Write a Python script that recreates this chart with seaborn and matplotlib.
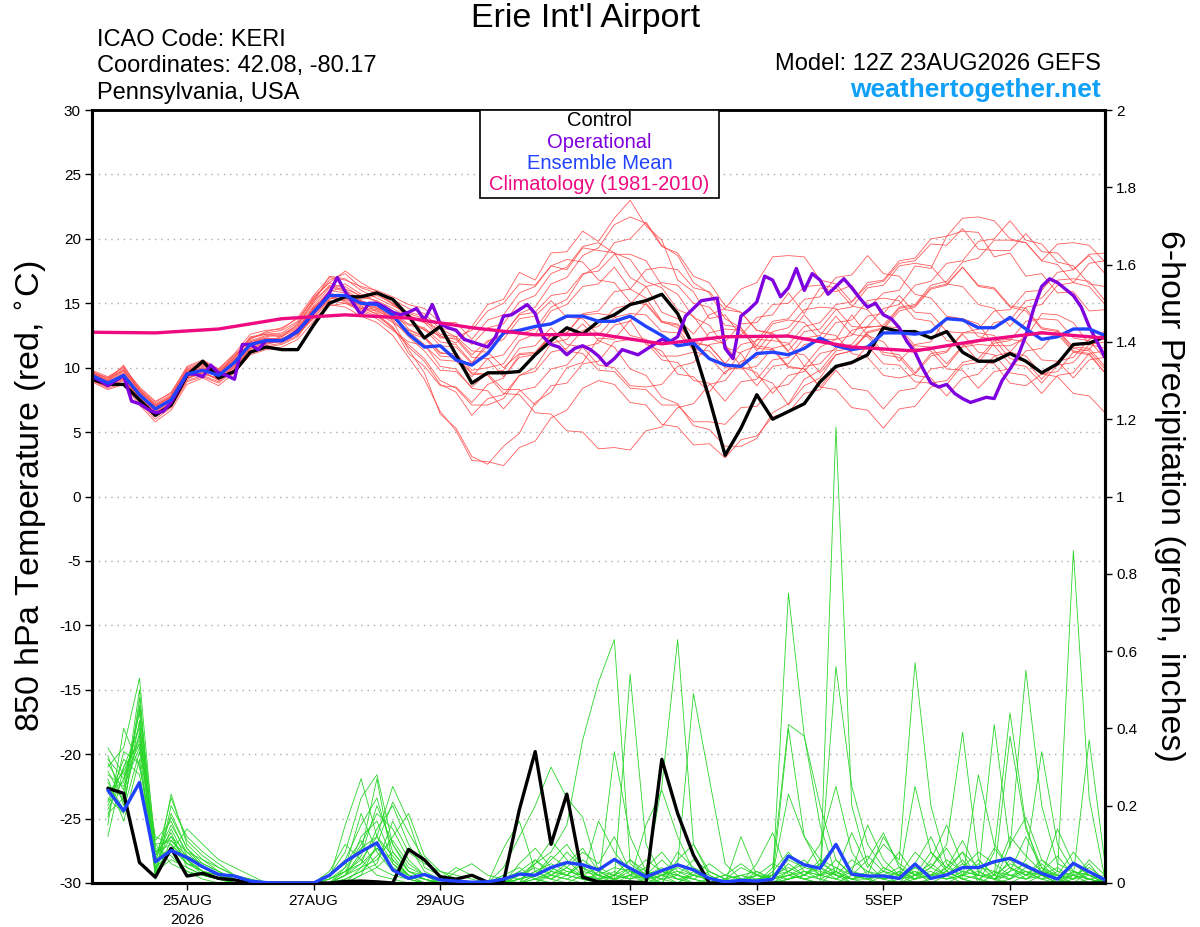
import numpy as np
import pandas as pd
import matplotlib
matplotlib.use('Agg')
import matplotlib.pyplot as plt
import seaborn as sns
from matplotlib.patches import Rectangle

# ---------------- DATA ----------------
# forecast hour offsets from 12Z 23AUG2026 (6-hourly, 0..384)
tick_hours = [36, 84, 132, 204, 252, 300, 348]
tick_labels = ['25AUG\n2026', '27AUG', '29AUG', '1SEP', '3SEP', '5SEP', '7SEP']

control_temp = [9.1, 8.7, 8.7, 7.5, 6.3, 7.1, 9.4, 10.5, 9.2, 9.7, 11.2, 11.6, 11.4, 11.4, 13.3, 15.0,
                15.5, 15.5, 15.8, 15.3, 14.0, 12.3, 13.2, 11.0, 8.8, 9.6, 9.6, 9.7, 11.0, 12.1, 13.1, 12.6,
                13.6, 14.1, 14.9, 15.2, 15.7, 14.2, 11.6, 7.6, 3.2, 5.3, 7.9, 6.0, 6.6, 7.2, 8.9, 10.1,
                10.4, 11.0, 13.1, 12.8, 12.8, 12.3, 12.8, 11.2, 10.5, 10.5, 11.1, 10.5, 9.6, 10.3, 11.8,
                11.9, 12.4]

mean_temp = [9.4, 8.8, 9.4, 7.9, 6.8, 7.5, 9.5, 9.8, 9.4, 10.4, 11.8, 12.1, 12.1, 12.8, 14.3, 15.6,
             15.6, 15.0, 14.9, 14.1, 12.6, 11.6, 11.7, 10.6, 10.2, 11.1, 12.7, 12.9, 13.2, 13.4, 14.0,
             14.0, 13.6, 13.6, 14.0, 13.2, 12.5, 11.7, 11.9, 10.7, 10.2, 10.1, 11.1, 11.2, 11.0, 11.5,
             12.3, 11.7, 11.4, 11.6, 12.7, 12.7, 12.6, 12.8, 13.8, 13.7, 13.1, 13.1, 13.9, 13.0, 12.2,
             12.4, 13.0, 13.0, 12.5]

# operational run, 3-hourly
oper_temp = [9.3, 9.0, 8.6, 9.0, 9.4, 7.4, 7.2, 6.8, 6.5, 6.6, 7.3, 8.4, 9.5, 9.5, 9.3, 10.2,
             9.6, 9.4, 9.1, 11.8, 11.8, 11.4, 12.1, 12.1, 12.1, 12.4, 12.9, 13.5, 14.3, 15.0, 15.8, 17.0,
             15.9, 15.0, 14.1, 15.0, 15.0, 14.7, 14.3, 14.1, 14.3, 14.6, 13.7, 14.9, 13.4, 13.1, 12.9, 12.2,
             12.0, 11.8, 11.6, 12.4, 14.0, 14.1, 14.5, 14.9, 14.2, 12.4, 11.8, 11.6, 11.0, 11.5, 11.7, 11.4,
             10.9, 10.2, 10.7, 11.4, 11.2, 11.0, 11.4, 11.8, 12.2, 12.0, 12.4, 14.0, 14.6, 15.2, 15.3, 15.4,
             11.5, 10.7, 14.0, 14.5, 15.1, 17.1, 16.8, 15.5, 16.2, 17.7, 16.0, 17.3, 16.8, 15.7, 16.3, 16.9,
             16.2, 15.4, 14.7, 15.0, 14.1, 13.8, 13.1, 12.0, 11.2, 9.9, 8.8, 8.5, 8.7, 8.0, 7.6, 7.3,
             7.5, 7.7, 7.6, 9.0, 9.9, 10.9, 12.5, 14.6, 16.3, 16.9, 16.6, 16.1, 15.6, 14.7, 13.2, 12.0,
             10.8]

# climatology (1981-2010), daily at 12Z
clim_hours = [0, 24, 48, 72, 96, 120, 144, 168, 192, 216, 240, 264, 288, 312, 336, 360, 384]
clim_temp = [12.75, 12.7, 13.0, 13.8, 14.1, 13.85, 13.1, 12.55, 12.6, 11.85, 12.4, 12.45, 11.6, 11.3,
             12.1, 12.7, 12.3]

member_temps = [
    [9.6, 9.0, 10.2, 8.2, 7.0, 7.8, 9.8, 10.3, 9.6, 10.8, 12.4, 12.6, 12.5, 13.2, 15.0, 16.4, 16.0, 15.3, 15.6, 15.0, 13.8, 12.9, 12.5, 11.9, 13.2, 14.9, 15.3, 17.4, 16.8, 18.9, 19.0, 20.6, 19.8, 21.6, 23.0, 21.0, 19.9, 16.8, 15.9, 13.8, 14.1, 12.5, 13.9, 14.1, 15.8, 14.2, 16.2, 15.9, 16.4, 14.6, 15.8, 16.0, 17.9, 17.7, 20.2, 20.6, 20.5, 18.6, 18.9, 17.1, 17.3, 15.8, 15.9, 14.4, 14.5],
    [9.2, 8.6, 9.0, 7.6, 6.5, 7.2, 9.3, 9.6, 9.1, 10.1, 11.5, 11.9, 12.0, 12.9, 14.6, 16.0, 15.8, 15.2, 14.8, 13.6, 11.4, 9.6, 6.4, 5.3, 3.1, 2.5, 3.9, 4.9, 7.3, 8.1, 10.0, 10.4, 12.3, 12.2, 13.7, 11.8, 11.3, 9.5, 9.3, 8.1, 9.7, 10.2, 12.2, 12.1, 11.9, 10.1, 11.6, 12.2, 14.1, 12.5, 12.0, 10.5, 11.8, 12.0, 13.9, 13.8, 13.4, 11.7, 11.7, 12.3, 14.2, 14.1, 13.5, 11.8, 11.5],
    [9.8, 9.3, 10.0, 8.5, 7.4, 8.0, 10.1, 10.6, 9.9, 11.0, 12.2, 12.8, 13.1, 13.8, 15.3, 16.8, 17.3, 16.2, 15.8, 14.9, 14.1, 13.5, 13.0, 12.4, 12.9, 14.4, 15.0, 16.5, 16.4, 17.9, 17.6, 19.3, 19.1, 18.9, 17.0, 16.3, 14.3, 13.8, 12.6, 14.1, 14.6, 16.1, 16.6, 18.6, 18.7, 18.6, 16.8, 16.5, 15.1, 16.4, 16.7, 18.1, 18.3, 19.6, 19.5, 20.8, 19.2, 19.1, 19.1, 20.4, 19.0, 18.9, 17.6, 18.8, 18.9],
    [9.0, 8.4, 8.8, 7.3, 6.0, 6.9, 8.9, 9.3, 8.8, 9.8, 11.2, 11.6, 11.8, 12.4, 14.1, 15.4, 15.2, 14.6, 14.2, 13.0, 11.8, 10.7, 9.0, 8.4, 7.1, 7.1, 7.6, 9.4, 10.0, 11.9, 12.2, 13.4, 12.1, 11.6, 9.9, 9.4, 7.7, 7.2, 5.5, 5.2, 3.9, 3.9, 4.5, 6.5, 7.2, 9.1, 9.8, 11.3, 11.5, 12.6, 11.2, 11.0, 9.6, 11.1, 11.3, 12.7, 12.7, 12.5, 11.2, 10.9, 9.5, 9.3, 8.0, 7.8, 6.5],
    [9.5, 8.9, 9.6, 8.0, 6.9, 7.6, 9.6, 10.0, 9.5, 10.6, 12.0, 12.3, 12.2, 13.0, 14.8, 16.2, 16.5, 15.7, 15.1, 14.4, 13.0, 12.4, 11.1, 11.1, 9.8, 10.0, 10.3, 12.1, 12.6, 14.4, 14.9, 16.3, 16.5, 17.8, 16.1, 15.4, 13.6, 13.1, 11.3, 10.8, 9.5, 11.2, 11.7, 13.4, 13.7, 13.5, 12.2, 12.2, 12.5, 14.0, 14.2, 15.6, 14.3, 14.2, 12.8, 12.7, 13.0, 14.4, 14.5, 15.9, 16.0, 17.4, 17.6, 18.7, 17.3],
    [9.3, 8.7, 9.2, 7.7, 6.6, 7.3, 9.4, 9.9, 9.3, 10.3, 11.6, 12.0, 12.3, 12.6, 13.9, 15.1, 15.5, 14.8, 14.1, 13.2, 11.1, 10.1, 8.6, 8.5, 7.3, 8.7, 9.2, 11.0, 11.1, 12.5, 12.7, 14.1, 14.2, 14.0, 12.5, 12.2, 10.9, 10.9, 11.2, 12.7, 13.0, 12.9, 11.5, 11.4, 10.0, 9.9, 8.5, 10.0, 10.3, 11.7, 10.3, 10.2, 8.9, 8.8, 9.0, 10.4, 10.7, 12.1, 12.2, 12.0, 10.6, 10.5, 9.2, 10.6, 10.8],
    [9.1, 8.5, 9.3, 7.5, 6.4, 7.1, 9.1, 9.7, 9.0, 10.0, 11.4, 11.8, 12.1, 12.7, 14.4, 15.9, 16.3, 15.5, 15.2, 14.6, 13.9, 13.5, 12.3, 12.3, 11.0, 12.1, 12.6, 14.1, 14.3, 15.6, 15.8, 17.3, 17.5, 18.8, 18.8, 18.3, 16.4, 15.7, 13.9, 13.3, 11.6, 11.1, 9.3, 8.8, 7.1, 8.6, 9.2, 11.0, 11.3, 12.8, 13.1, 14.6, 14.8, 16.2, 16.5, 17.8, 16.3, 16.1, 14.7, 14.4, 13.0, 12.8, 11.3, 11.1, 9.6],
    [9.7, 9.1, 9.9, 8.3, 7.2, 7.9, 9.9, 10.4, 9.8, 10.9, 12.1, 12.5, 12.4, 13.4, 15.1, 17.1, 16.9, 16.0, 15.4, 14.8, 14.3, 14.0, 12.6, 12.4, 11.3, 11.2, 10.0, 11.1, 11.2, 12.6, 11.3, 11.1, 9.8, 9.7, 8.4, 8.3, 7.1, 7.1, 5.8, 5.8, 5.6, 6.9, 7.0, 8.4, 8.7, 10.1, 10.3, 11.6, 11.8, 13.2, 13.2, 13.1, 11.7, 11.6, 10.3, 11.7, 12.0, 13.5, 13.7, 15.2, 15.4, 16.8, 16.9, 16.7, 15.2],
    [9.4, 8.8, 9.5, 7.9, 6.7, 7.5, 9.5, 9.8, 9.4, 10.5, 11.9, 12.2, 12.0, 12.9, 14.2, 15.2, 15.0, 14.4, 13.8, 12.9, 12.0, 11.7, 10.6, 10.5, 9.3, 10.7, 11.0, 12.6, 13.0, 14.7, 15.3, 17.2, 17.9, 19.7, 20.0, 21.3, 19.5, 18.7, 16.6, 15.8, 13.8, 13.1, 11.3, 12.8, 13.1, 14.5, 14.7, 14.6, 13.2, 13.1, 13.3, 14.7, 14.9, 16.4, 16.7, 18.2, 18.5, 19.9, 19.9, 19.7, 18.3, 19.6, 19.7, 19.5, 18.2],
    [9.2, 8.7, 9.1, 7.6, 6.3, 7.0, 9.2, 9.5, 9.2, 10.2, 11.7, 12.1, 12.4, 13.1, 14.7, 15.8, 15.4, 14.7, 14.5, 13.7, 12.4, 11.3, 9.8, 9.7, 8.5, 9.6, 9.8, 11.5, 11.7, 13.1, 11.8, 11.6, 10.2, 10.0, 8.6, 8.5, 8.7, 10.1, 10.4, 11.8, 12.0, 13.4, 13.5, 14.9, 15.0, 16.3, 16.4, 16.2, 14.8, 14.5, 13.1, 12.9, 11.5, 11.3, 9.9, 9.8, 8.4, 9.7, 9.9, 11.3, 11.5, 12.9, 11.6, 11.5, 10.1],
    [9.6, 9.0, 9.7, 8.1, 7.1, 7.7, 9.7, 10.1, 9.7, 10.7, 12.3, 12.7, 12.9, 13.6, 15.5, 16.6, 16.1, 15.6, 15.9, 15.3, 14.6, 14.2, 13.0, 13.0, 11.8, 13.1, 13.4, 15.1, 15.6, 17.3, 17.8, 19.4, 19.7, 18.9, 18.4, 16.7, 16.2, 14.5, 14.0, 12.3, 11.8, 10.1, 9.6, 8.0, 9.4, 9.7, 11.1, 11.4, 12.9, 13.2, 14.6, 14.9, 16.4, 16.7, 18.1, 18.3, 19.8, 20.0, 21.4, 19.9, 19.6, 18.2, 17.9, 16.5, 16.3],
    [8.9, 8.3, 8.7, 7.1, 5.8, 6.7, 8.7, 9.2, 8.6, 9.6, 11.0, 11.4, 11.6, 12.2, 13.6, 14.9, 14.7, 14.0, 13.5, 12.5, 10.8, 9.1, 6.6, 5.1, 2.8, 2.7, 2.4, 3.8, 4.3, 6.1, 6.7, 8.4, 9.0, 8.7, 7.3, 7.1, 5.6, 5.4, 4.0, 4.1, 3.0, 4.4, 4.7, 6.2, 6.5, 8.0, 8.3, 9.8, 8.4, 8.2, 6.8, 8.2, 8.4, 9.9, 10.1, 11.6, 11.8, 11.7, 10.3, 10.1, 8.8, 10.2, 10.4, 11.8, 12.0],
    [9.5, 9.0, 9.8, 8.2, 7.0, 7.7, 9.7, 10.2, 9.6, 10.6, 12.0, 12.4, 12.6, 13.3, 15.2, 16.3, 15.9, 15.1, 14.7, 14.2, 13.4, 13.1, 12.0, 11.8, 10.4, 11.7, 12.2, 13.8, 14.0, 15.2, 13.9, 13.8, 12.5, 13.9, 14.2, 14.1, 12.8, 12.7, 11.4, 11.3, 10.0, 9.9, 10.1, 11.5, 11.8, 13.2, 13.5, 14.9, 15.1, 16.6, 16.8, 18.3, 18.5, 20.0, 20.2, 21.6, 21.7, 21.4, 20.0, 19.7, 18.3, 18.0, 16.6, 16.3, 14.9],
    [9.3, 8.8, 9.2, 7.8, 6.6, 7.4, 9.4, 9.9, 9.3, 10.4, 11.8, 12.2, 12.0, 12.8, 14.0, 15.3, 15.7, 15.2, 14.3, 13.5, 12.7, 12.3, 10.9, 10.8, 9.5, 9.4, 8.0, 7.9, 6.5, 6.4, 5.1, 5.0, 3.7, 3.8, 3.6, 5.1, 5.4, 6.9, 7.2, 8.7, 9.0, 10.5, 10.8, 12.3, 12.6, 14.1, 12.7, 12.5, 11.1, 10.8, 9.4, 9.2, 9.5, 10.9, 11.2, 12.6, 11.2, 11.0, 9.6, 9.4, 8.0, 9.4, 9.6, 11.1, 11.3],
    [9.6, 9.2, 10.1, 8.4, 7.3, 8.1, 10.0, 10.5, 9.9, 11.1, 12.6, 12.9, 13.0, 13.9, 15.6, 17.0, 16.8, 16.3, 16.0, 15.5, 14.9, 14.6, 13.5, 13.5, 12.2, 13.7, 14.1, 15.8, 16.3, 17.9, 18.4, 18.2, 16.8, 16.6, 15.1, 14.9, 13.5, 13.3, 11.9, 11.7, 10.3, 11.8, 12.1, 13.6, 13.8, 15.3, 15.5, 17.0, 17.2, 18.7, 17.3, 17.1, 15.7, 15.4, 14.0, 13.8, 12.4, 12.2, 10.7, 10.5, 9.1, 10.5, 10.8, 12.2, 12.5],
    [9.0, 8.5, 9.0, 7.4, 6.2, 7.0, 9.0, 9.4, 8.9, 9.9, 11.3, 11.7, 11.9, 12.5, 14.3, 15.6, 15.1, 14.5, 14.0, 13.1, 11.6, 10.5, 8.7, 8.1, 6.3, 7.6, 7.9, 9.4, 9.7, 11.2, 11.5, 12.9, 13.2, 14.6, 14.9, 16.3, 16.6, 16.4, 15.0, 14.7, 13.3, 13.1, 11.7, 11.5, 10.1, 9.9, 8.5, 8.3, 6.9, 6.7, 5.3, 6.8, 7.0, 8.5, 8.7, 10.2, 10.4, 11.9, 12.1, 13.6, 13.8, 13.7, 12.3, 12.1, 10.7],
    [9.4, 8.9, 9.4, 7.9, 6.8, 7.6, 9.5, 10.0, 9.5, 10.5, 11.9, 12.3, 12.2, 13.0, 14.5, 15.5, 15.3, 14.9, 14.6, 14.0, 13.3, 13.0, 11.7, 11.6, 10.3, 12.0, 12.5, 14.2, 14.7, 16.5, 17.0, 18.7, 19.3, 21.1, 21.7, 21.2, 19.4, 18.9, 17.1, 16.6, 14.8, 14.3, 12.9, 12.7, 11.3, 12.8, 13.0, 14.5, 14.7, 16.2, 16.4, 17.9, 18.1, 17.9, 16.5, 16.3, 14.9, 14.6, 13.2, 14.7, 14.9, 16.4, 16.6, 18.1, 18.3],
    [9.1, 8.6, 9.2, 7.6, 6.5, 7.2, 9.2, 9.6, 9.1, 10.1, 11.5, 11.9, 12.1, 12.6, 13.8, 14.8, 15.0, 14.6, 14.4, 13.8, 12.9, 12.4, 11.2, 10.9, 9.6, 9.5, 8.3, 8.3, 7.1, 8.6, 8.8, 10.3, 10.5, 12.0, 12.2, 12.0, 10.6, 10.4, 9.0, 8.8, 7.4, 8.9, 9.1, 10.6, 10.8, 12.3, 12.5, 14.0, 12.6, 12.4, 11.0, 10.8, 9.4, 9.2, 7.8, 9.2, 9.5, 10.9, 11.2, 12.6, 12.8, 12.6, 11.2, 11.0, 9.6],
    [9.7, 9.2, 9.8, 8.3, 7.1, 7.8, 9.8, 10.3, 9.7, 10.8, 12.3, 12.6, 12.7, 13.5, 15.4, 16.6, 17.5, 16.6, 15.9, 15.0, 14.2, 13.8, 12.4, 12.2, 10.8, 10.7, 9.3, 10.8, 11.0, 12.5, 12.7, 14.2, 14.4, 15.9, 16.1, 17.6, 17.8, 17.6, 16.2, 15.9, 14.5, 14.3, 12.9, 12.6, 11.2, 11.0, 9.6, 11.0, 11.3, 12.7, 13.0, 14.4, 14.7, 16.1, 16.4, 17.8, 16.4, 16.2, 14.8, 14.6, 13.1, 12.9, 11.5, 11.3, 9.9],
    [9.3, 8.8, 9.3, 7.8, 6.8, 7.4, 9.4, 9.8, 9.3, 10.3, 11.7, 12.0, 12.2, 12.9, 14.6, 15.7, 15.6, 15.0, 14.6, 13.9, 12.8, 11.8, 10.1, 9.9, 8.4, 8.2, 6.8, 8.2, 8.5, 9.9, 10.2, 11.6, 11.9, 13.3, 13.6, 15.0, 13.6, 13.4, 12.0, 11.7, 10.3, 10.1, 8.6, 10.1, 10.3, 11.8, 12.0, 13.5, 13.7, 15.2, 15.4, 15.2, 13.8, 13.6, 12.1, 11.9, 10.5, 10.3, 8.8, 8.6, 9.5, 9.7, 11.2, 11.4, 12.9],
]

# 6-hour precipitation (inches), valid at hours 6..384
control_precip = [0.245, 0.232, 0.053, 0.015, 0.09, 0.018, 0.025, 0.012, 0.008, 0, 0, 0, 0, 0, 0, 0.004,
                  0.005, 0.003, 0, 0.087, 0.06, 0.016, 0.01, 0.02, 0.002, 0.003, 0.19, 0.34, 0.10, 0.23, 0.015, 0.003,
                  0.003, 0.003, 0, 0.32, 0.18, 0.072, 0, 0, 0, 0, 0, 0, 0, 0, 0, 0,
                  0, 0, 0, 0, 0, 0, 0, 0, 0, 0, 0, 0, 0, 0, 0, 0]

mean_precip = [0.24, 0.187, 0.26, 0.055, 0.084, 0.066, 0.042, 0.022, 0.018, 0.005, 0.001, 0, 0, 0, 0.02, 0.055,
               0.081, 0.104, 0.034, 0.012, 0.022, 0.008, 0.005, 0.002, 0.003, 0.01, 0.023, 0.02, 0.04, 0.053, 0.047, 0.034,
               0.061, 0.038, 0.016, 0.032, 0.047, 0.034, 0.012, 0.003, 0.007, 0.005, 0.01, 0.07, 0.047, 0.038, 0.10, 0.023,
               0.018, 0.018, 0.012, 0.049, 0.012, 0.021, 0.04, 0.04, 0.055, 0.064, 0.044, 0.025, 0.01, 0.051, 0.029, 0.008]

member_precips = [
    [.30, .35, .53, .08, .12, .05, .03, .01, 0, 0, 0, 0, 0, 0, .02, .08, .22, .28, .10, .03, .01, 0, 0, 0, 0, 0, .02, .05, .08, .15, .37, .52, .63, .05, .02, 0, 0, .03, .01, 0, 0, 0, 0, .02, .01, 0, .03, 0, 0, 0, .01, .03, 0, 0, .02, .05, .01, 0, 0, .02, 0, 0, .03, 0],
    [.25, .22, .45, .02, .23, .10, .06, .03, .01, 0, 0, 0, 0, 0, 0, .03, .06, .12, .25, .16, .04, .02, 0, 0, 0, .04, .12, .20, .30, .22, .17, .03, .01, .54, .10, .02, 0, 0, 0, 0, .02, 0, .04, .41, .38, .15, .02, 0, 0, .02, 0, 0, .01, .04, .08, 0, 0, .03, .12, .04, 0, .01, .05, 0],
    [.20, .30, .40, .06, .15, .08, .04, .02, 0, 0, 0, 0, 0, 0, 0, 0, .04, .09, .06, .02, 0, .01, .04, .02, 0, 0, 0, .02, .06, .10, .04, .01, .02, .06, .03, .25, .63, .10, .02, 0, 0, 0, 0, .03, .06, .02, .56, .25, .10, .04, .02, 0, 0, .02, .06, .01, 0, .10, .17, .06, .02, 0, 0, .01],
    [.35, .28, .38, .04, .08, .14, .10, .06, .04, .02, 0, 0, 0, 0, .01, .15, .27, .12, .05, .01, 0, 0, 0, 0, 0, 0, 0, 0, .02, .04, .08, .05, .12, .03, 0, 0, .05, .49, .27, .05, .01, 0, 0, .01, .02, .06, .04, .01, 0, 0, 0, .05, .12, .03, .01, 0, .08, .44, .15, .02, 0, .03, .01, 0],
    [.15, .40, .30, .10, .05, .03, .02, .01, 0, 0, 0, 0, 0, 0, 0, .02, .05, .14, .20, .10, .03, .01, 0, 0, 0, 0, 0, .06, .03, .02, .01, .02, 0, 0, 0, .02, .01, 0, 0, 0, .12, .02, .01, .75, .38, .20, .06, .02, .01, 0, 0, .02, .08, .04, .02, .01, 0, 0, .02, .06, .03, .86, .22, .01],
    [.22, .18, .48, .01, .20, .12, .08, .05, .02, 0, 0, 0, 0, 0, .02, .06, .15, .22, .08, .03, .02, 0, 0, 0, 0, 0, .05, .09, .04, .02, .01, 0, .34, .12, .03, .01, 0, 0, 0, 0, 0, .05, .13, .02, .01, 0, 1.18, .20, .05, .01, 0, .01, .04, .02, 0, 0, 0, .01, .04, .02, 0, .05, .02, 0],
    [.28, .25, .35, .12, .10, .06, .02, .01, 0, 0, 0, 0, 0, 0, .01, .03, .10, .18, .14, .06, .02, .01, 0, 0, 0, .09, .16, .03, .01, 0, 0, 0, .02, .01, .15, .24, .12, .03, 0, 0, 0, 0, 0, .01, .02, .01, .03, .13, .04, .10, .06, .57, .20, .05, .01, 0, .02, .05, .03, .01, 0, .02, .37, .05],
    [.18, .22, .50, .03, .18, .09, .05, .03, .01, 0, 0, 0, 0, 0, 0, .01, .03, .05, .16, .08, .05, .03, .02, .01, 0, 0, 0, 0, .03, .08, .04, .02, .01, .03, .02, 0, .06, .10, .03, .01, 0, .01, .02, .23, .12, .04, .02, .06, .03, .01, .02, .08, .04, .10, .39, .06, .02, .38, .14, .04, .01, 0, .01, 0],
    [.33, .20, .42, .07, .13, .04, .02, .01, 0, 0, 0, 0, 0, 0, 0, .04, .18, .08, .03, .01, 0, 0, .03, .05, .02, .01, 0, .05, .11, .06, .02, .01, 0, .02, .06, .03, .01, 0, 0, .01, .04, .02, 0, .01, .02, .05, .10, .03, .15, .06, .02, .25, .08, .03, .01, .28, .10, .04, .02, .03, .07, .02, 0, .01],
    [.12, .30, .36, .05, .22, .11, .07, .04, .02, .01, 0, 0, 0, 0, 0, .02, .08, .27, .05, .02, 0, 0, 0, 0, 0, 0, .02, .04, .02, .05, .09, .03, .01, 0, .01, .03, .02, .01, 0, 0, 0, 0, .01, .02, .03, .02, .01, 0, 0, .04, .02, .01, .06, .15, .05, .02, .41, .09, .55, .20, .05, .03, .02, 0],
    [.24, .26, .44, .09, .07, .03, .01, 0, 0, 0, 0, 0, 0, 0, .03, .10, .06, .02, .01, 0, 0, 0, 0, 0, 0, .02, .04, .01, 0, .02, .05, .02, .04, .03, .01, .02, .04, .02, .01, .02, .05, .02, .02, .06, .04, .10, .25, .08, .02, .12, .05, .02, .01, .03, .08, .04, .03, .01, .06, .34, .10, .03, .02, .01],
    [.27, .16, .32, .02, .11, .07, .04, .02, .01, 0, 0, 0, 0, 0, 0, 0, .02, .10, .21, .13, .06, .02, .01, 0, 0, 0, .01, .03, .05, .03, .02, .16, .08, .03, .01, 0, 0, .02, .05, .02, .01, 0, .03, .08, .03, .01, 0, .02, .06, .13, .04, .01, .02, .06, .03, .02, .09, .04, .01, .02, .14, .05, .02, 0],
    [.21, .32, .28, .06, .09, .05, .03, .02, 0, 0, 0, 0, 0, 0, 0, .02, .04, .06, .12, .18, .07, .03, .01, 0, 0, 0, .03, .01, 0, 0, .02, .04, .02, .06, .02, .01, .08, .04, .02, 0, 0, .02, .05, .03, .01, .02, .06, .02, .01, .03, .08, .02, .04, .09, .02, .06, .02, .12, .07, .03, .02, .01, .06, .02],
    [.31, .24, .46, .11, .16, .07, .05, .03, .01, 0, 0, 0, 0, 0, .01, .04, .09, .12, .07, .02, .01, 0, 0, 0, 0, 0, 0, .02, .07, .04, .01, 0, .01, .02, .04, .08, .03, .01, 0, 0, 0, .01, .02, .04, .02, .05, .03, .01, .02, .01, .03, .01, .02, .04, .11, .03, .01, .06, .02, .05, .01, .03, .01, 0],
    [.19, .27, .41, .04, .14, .06, .03, .02, .01, 0, 0, 0, 0, 0, .02, .05, .11, .04, .02, .01, 0, 0, 0, 0, 0, .01, .03, .06, .02, .01, 0, .03, .06, .02, 0, .01, .02, .06, .03, .01, .02, .03, .01, .40, .12, .06, .02, .01, .03, .02, .01, .02, .05, .02, .04, .08, .05, .02, .03, .01, .02, .08, .03, 0],
    [.26, .19, .34, .03, .06, .04, .02, .01, 0, 0, 0, 0, 0, 0, 0, .02, .07, .20, .10, .04, .02, 0, 0, 0, 0, 0, .01, .02, .04, .02, .05, .02, .01, .04, .02, .06, .02, 0, .01, .02, .01, 0, .02, .03, .05, .02, .01, .04, .07, .03, .01, .04, .02, .01, .03, .02, .01, .03, .05, .02, .04, .01, .02, .01],
    [.23, .29, .37, .08, .10, .05, .04, .02, 0, 0, 0, 0, 0, 0, .01, .03, .05, .09, .04, .02, .01, 0, 0, 0, 0, .02, .01, .03, .01, .04, .02, .01, .03, .01, .02, .04, .01, .02, .01, 0, .01, .02, .01, .02, .04, .03, .02, .01, .01, .02, .04, .02, .03, .01, .02, .01, .03, .02, .01, .04, .02, .01, .03, .01],
    [.29, .21, .39, .05, .12, .08, .06, .04, .02, .01, 0, 0, 0, 0, 0, .01, .03, .07, .11, .05, .02, .01, 0, 0, 0, 0, 0, .01, .03, .02, .06, .03, .02, .01, .03, .02, .05, .02, .01, 0, 0, .03, .01, .05, .02, .04, .01, .03, .02, .01, .02, .03, .01, .02, .05, .02, .01, .04, .02, .01, .03, .02, .01, .02],
    [.17, .34, .31, .07, .17, .09, .04, .02, .01, 0, 0, 0, 0, 0, 0, .02, .12, .16, .06, .02, .01, 0, 0, 0, 0, 0, .01, .02, .01, .03, .02, .01, .02, .04, .01, .03, .02, .01, .03, .01, .02, .01, .02, .01, .03, .02, .04, .02, .01, .03, .02, .04, .02, .03, .01, .02, .02, .01, .03, .02, .01, .02, .04, .01],
    [.32, .27, .36, .10, .11, .06, .03, .02, 0, 0, 0, 0, 0, 0, 0, 0, .02, .04, .08, .03, .01, 0, 0, 0, 0, 0, 0, .01, .02, .01, .03, .02, .01, .02, .01, .02, .03, .02, .01, 0, 0, .02, .01, .03, .01, .02, .03, .01, .02, .01, .03, .01, .02, .01, .02, .03, .01, .02, .01, .03, .01, .02, .01, 0],
]

# ---------------- STYLE ----------------
sns.set_theme(style='ticks', rc={'text.color': 'black', 'axes.labelcolor': 'black',
                                 'xtick.color': 'black', 'ytick.color': 'black',
                                 'axes.edgecolor': 'black'})
plt.rcParams['font.family'] = ['Liberation Sans', 'DejaVu Sans']

C_RED = '#ff4a4a'
C_GREEN = '#2ad62a'
C_PURPLE = '#7f00df'
C_BLUE = '#2142ff'
C_PINK = '#ee0a80'

fig = plt.figure(figsize=(12, 9.27), dpi=100)
fig.patch.set_facecolor('white')
ax = fig.add_axes([92/1200, 44/927, 1013/1200, 773/927])
ax2 = ax.twinx()


def hours_for(vals, step, start=0):
    return [start + step * i for i in range(len(vals))]


# temperature members
temp_df = pd.concat([
    pd.DataFrame({'hour': hours_for(v, 6), 'temp': v, 'member': k})
    for k, v in enumerate(member_temps)], ignore_index=True)
sns.lineplot(data=temp_df, x='hour', y='temp', units='member', estimator=None,
             color=C_RED, lw=0.6, alpha=0.9, ax=ax, legend=False, sort=False, zorder=2)

# grid
for g in range(-25, 30, 5):
    ax.axhline(g, color='#aaaaaa', lw=1.0, ls=(0, (1, 3.5)), zorder=1)

sns.lineplot(x=hours_for(control_temp, 6), y=control_temp, color='black', lw=2.4, ax=ax, zorder=4)
sns.lineplot(x=hours_for(oper_temp, 3), y=oper_temp, color=C_PURPLE, lw=2.4, ax=ax, zorder=5)
sns.lineplot(x=hours_for(mean_temp, 6), y=mean_temp, color=C_BLUE, lw=2.4, ax=ax, zorder=6)
sns.lineplot(x=clim_hours, y=clim_temp, color=C_PINK, lw=2.4, ax=ax, zorder=7)

# precipitation
prec_df = pd.concat([
    pd.DataFrame({'hour': hours_for(v, 6, 6), 'precip': v, 'member': k})
    for k, v in enumerate(member_precips)], ignore_index=True)
sns.lineplot(data=prec_df, x='hour', y='precip', units='member', estimator=None,
             color=C_GREEN, lw=0.6, ax=ax2, legend=False, sort=False, zorder=2)
sns.lineplot(x=hours_for(control_precip, 6, 6), y=control_precip, color='black', lw=2.4, ax=ax2, zorder=4)
sns.lineplot(x=hours_for(mean_precip, 6, 6), y=mean_precip, color=C_BLUE, lw=2.4, ax=ax2, zorder=5)

# axes limits & ticks
ax.set_xlim(0, 384)
ax.set_ylim(-30, 30)
ax2.set_ylim(0, 2)
ax.set_yticks(list(range(-30, 31, 5)))
ax.set_yticklabels([str(v) for v in range(-30, 31, 5)])
rticks = [round(0.2 * i, 1) for i in range(11)]
ax2.set_yticks(rticks)
ax2.set_yticklabels(['0' if v == 0 else ('%g' % v) for v in rticks])
ax.set_xticks(tick_hours)
ax.set_xticklabels(tick_labels)
for t in ax.get_xticklabels():
    t.set_linespacing(1.45)
    t.set_verticalalignment('top')

ax.tick_params(axis='both', direction='out', length=5, width=1, labelsize=11, colors='black', pad=3)
ax2.tick_params(axis='y', direction='out', length=5, width=1, labelsize=11, colors='black', pad=3)
ax.set_xlabel('')
ax.set_ylabel('')
ax2.set_ylabel('')
for a in (ax, ax2):
    for s in a.spines.values():
        s.set_visible(True)
        s.set_linewidth(2.2)
        s.set_color('black')
ax.spines['top'].set_linewidth(1.8)
ax2.spines['top'].set_linewidth(1.8)

# legend box
ax2.add_patch(Rectangle((0.383, 0.886), 0.236, 0.114, transform=ax.transAxes,
                        facecolor='white', edgecolor='black', lw=1.2, zorder=20))
leg_items = [('Control', 'black'), ('Operational', C_PURPLE),
             ('Ensemble Mean', C_BLUE), ('Climatology (1981-2010)', C_PINK)]
leg_y = [0.9858, 0.9586, 0.9314, 0.9030]
for (lab, col), yy in zip(leg_items, leg_y):
    ax2.text(0.501, yy, lab, color=col, ha='center', va='center', fontsize=14.5,
             transform=ax.transAxes, zorder=21)

# header texts
fig.text(586/1200, 1 - 18/927, "Erie Int'l Airport", ha='center', va='center', fontsize=24.5, color='black')
fig.text(97/1200, 1 - 40/927, 'ICAO Code: KERI', ha='left', va='center', fontsize=17, color='black')
fig.text(97/1200, 1 - 66/927, 'Coordinates: 42.08, -80.17', ha='left', va='center', fontsize=17, color='black')
fig.text(97/1200, 1 - 93/927, 'Pennsylvania, USA', ha='left', va='center', fontsize=17, color='black')
fig.text(1101/1200, 1 - 64/927, 'Model: 12Z 23AUG2026 GEFS', ha='right', va='center', fontsize=17, color='black')
fig.text(1101/1200, 1 - 90/927, 'weathertogether.net', ha='right', va='center', fontsize=19,
         fontweight='bold', color='#10a0f8')

# axis titles
fig.text(32/1200, 1 - 496/927, '850 hPa Temperature (red, $^{\\circ}$C)', rotation=90,
         ha='center', va='center', fontsize=24.5, color='black')
fig.text(1170/1200, 1 - 496/927, '6-hour Precipitation (green, inches)', rotation=270,
         ha='center', va='center', fontsize=24.5, color='black')

fig.savefig('out.png', dpi=100, facecolor='white')
